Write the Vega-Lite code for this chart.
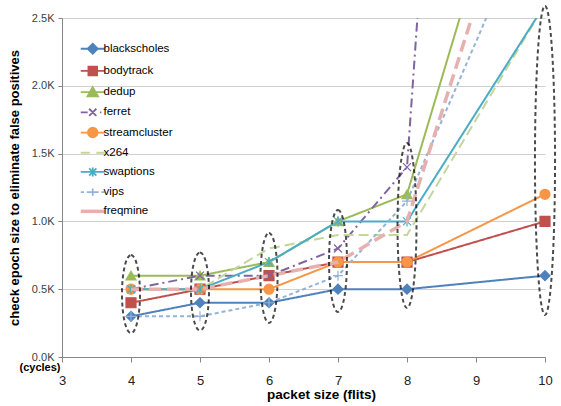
{
  "$schema": "https://vega.github.io/schema/vega-lite/v6.json",
  "autosize": {"type": "none"},
  "width": 483,
  "height": 339,
  "padding": {"left": 62, "top": 18, "right": 16, "bottom": 49},
  "background": "white",
  "config": {
    "font": "Liberation Sans",
    "view": {"stroke": null},
    "axis": {"domainColor": "#868686", "tickColor": "#868686", "labelFont": "Liberation Sans", "titleFont": "Liberation Sans"}
  },
  "datasets": {
    "series": [
      {"series": "blackscholes", "x": 4, "y": 0.3},
      {"series": "blackscholes", "x": 5, "y": 0.4},
      {"series": "blackscholes", "x": 6, "y": 0.4},
      {"series": "blackscholes", "x": 7, "y": 0.5},
      {"series": "blackscholes", "x": 8, "y": 0.5},
      {"series": "blackscholes", "x": 10, "y": 0.6},
      {"series": "bodytrack", "x": 4, "y": 0.4},
      {"series": "bodytrack", "x": 5, "y": 0.5},
      {"series": "bodytrack", "x": 6, "y": 0.6},
      {"series": "bodytrack", "x": 7, "y": 0.7},
      {"series": "bodytrack", "x": 8, "y": 0.7},
      {"series": "bodytrack", "x": 10, "y": 1.0},
      {"series": "dedup", "x": 4, "y": 0.6},
      {"series": "dedup", "x": 5, "y": 0.6},
      {"series": "dedup", "x": 6, "y": 0.7},
      {"series": "dedup", "x": 7, "y": 1.0},
      {"series": "dedup", "x": 8, "y": 1.2},
      {"series": "dedup", "x": 9, "y": 2.9},
      {"series": "ferret", "x": 4, "y": 0.5},
      {"series": "ferret", "x": 5, "y": 0.6},
      {"series": "ferret", "x": 6, "y": 0.6},
      {"series": "ferret", "x": 7, "y": 0.8},
      {"series": "ferret", "x": 8, "y": 1.4},
      {"series": "ferret", "x": 9, "y": 8.7},
      {"series": "streamcluster", "x": 4, "y": 0.5},
      {"series": "streamcluster", "x": 5, "y": 0.5},
      {"series": "streamcluster", "x": 6, "y": 0.5},
      {"series": "streamcluster", "x": 7, "y": 0.7},
      {"series": "streamcluster", "x": 8, "y": 0.7},
      {"series": "streamcluster", "x": 10, "y": 1.2},
      {"series": "x264", "x": 4, "y": 0.5},
      {"series": "x264", "x": 5, "y": 0.5},
      {"series": "x264", "x": 6, "y": 0.8},
      {"series": "x264", "x": 7, "y": 0.9},
      {"series": "x264", "x": 8, "y": 0.9},
      {"series": "x264", "x": 10, "y": 2.6},
      {"series": "swaptions", "x": 4, "y": 0.5},
      {"series": "swaptions", "x": 5, "y": 0.5},
      {"series": "swaptions", "x": 6, "y": 0.7},
      {"series": "swaptions", "x": 7, "y": 1.0},
      {"series": "swaptions", "x": 8, "y": 1.0},
      {"series": "swaptions", "x": 10, "y": 2.6},
      {"series": "vips", "x": 4, "y": 0.3},
      {"series": "vips", "x": 5, "y": 0.3},
      {"series": "vips", "x": 6, "y": 0.4},
      {"series": "vips", "x": 7, "y": 0.6},
      {"series": "vips", "x": 8, "y": 1.15},
      {"series": "vips", "x": 10, "y": 3.5},
      {"series": "freqmine", "x": 4, "y": 0.5},
      {"series": "freqmine", "x": 5, "y": 0.5},
      {"series": "freqmine", "x": 6, "y": 0.6},
      {"series": "freqmine", "x": 7, "y": 0.7},
      {"series": "freqmine", "x": 8, "y": 1.0},
      {"series": "freqmine", "x": 9, "y": 2.6}
    ],
    "ellipses": [
      {"ex": 4, "ey": 0.464},
      {"ex": 5, "ey": 0.483},
      {"ex": 6, "ey": 0.583},
      {"ex": 7, "ey": 0.708},
      {"ex": 8, "ey": 0.97},
      {"ex": 10, "ey": 1.449}
    ],
    "notes": [{"nx": 3, "ny": 0, "t": "(cycles)"}]
  },
  "layer": [
    {
      "data": {"name": "series"},
      "transform": [{"filter": "datum.series !== 'freqmine'"}],
      "mark": {"type": "line", "clip": true, "strokeWidth": 2},
      "encoding": {
        "x": {"field": "x", "type": "quantitative", "scale": {"domain": [3, 10], "nice": false, "zero": false},
          "axis": {"values": [3, 4, 5, 6, 7, 8, 9, 10], "format": "d", "labelFlush": false, "grid": false, "tickSize": 5, "labelFontSize": 13, "labelColor": "#222222", "labelPadding": 12,
            "title": "packet size (flits)", "titleFontSize": 13.5, "titleFontWeight": "bold", "titleColor": "#000000", "titleX": 259, "titleY": 37, "titleBaseline": "middle"}},
        "y": {"field": "y", "type": "quantitative", "scale": {"domain": [0, 2.5], "nice": false},
          "axis": {"values": [0, 0.5, 1, 1.5, 2, 2.5], "labelExpr": "format(datum.value, '.1f') + 'K'", "labelFlush": false, "grid": true, "gridColor": "#d0d0d0", "gridWidth": 1.2, "tickSize": 4, "labelFontSize": 11, "labelColor": "#404040", "labelPadding": 4,
            "title": "check epoch size to eliminate false positives", "titleFontSize": 13, "titleFontWeight": "bold", "titleColor": "#000000", "titlePadding": 10}},
        "color": {"field": "series", "type": "nominal",
          "scale": {"domain": ["blackscholes", "bodytrack", "dedup", "ferret", "streamcluster", "x264", "swaptions", "vips", "freqmine"],
            "range": ["#4F81BD", "#C0504D", "#9BBB59", "#8064A2", "#F79646", "#C3D69B", "#4BACC6", "#95B3D7", "#E6B0AF"]},
          "legend": {"title": null, "orient": "none", "legendX": 25, "legendY": 25, "padding": 0, "symbolSize": 576, "labelFontSize": 11.5, "labelColor": "#000000", "labelOffset": 5, "rowPadding": 4.2,
            "encode": {"symbols": {"update": {
              "shape": {"signal": "datum.value === 'blackscholes' ? 'M-1,0L1,0M-0.42,0L0,-0.42L0.42,0L0,0.42Z' : datum.value === 'bodytrack' ? 'M-1,0L1,0M-0.36,-0.36L0.36,-0.36L0.36,0.36L-0.36,0.36Z' : datum.value === 'dedup' ? 'M-1,0L1,0M0,-0.42L0.44,0.34L-0.44,0.34Z' : datum.value === 'ferret' ? 'M-1,0L-0.42,0M0.6,0L0.72,0M-0.3,-0.3L0.3,0.3M-0.3,0.3L0.3,-0.3' : datum.value === 'streamcluster' ? 'M-1,0L1,0M0.4,0C0.4,0.221,0.221,0.4,0,0.4C-0.221,0.4,-0.4,0.221,-0.4,0C-0.4,-0.221,-0.221,-0.4,0,-0.4C0.221,-0.4,0.4,-0.221,0.4,0Z' : datum.value === 'x264' ? 'M-1,0L-0.25,0M0.3,0L1,0' : datum.value === 'swaptions' ? 'M-1,0L1,0M-0.3,-0.3L0.3,0.3M-0.3,0.3L0.3,-0.3M0,-0.38L0,0.38' : datum.value === 'vips' ? 'M-1,0L-0.72,0M-0.5,0L-0.22,0M0.22,0L0.5,0M0.72,0L1,0M-0.25,0L0.25,0M0,-0.3L0,0.3' : 'M-1,0L1,0'"},
              "fill": {"scale": "color", "field": "value"},
              "stroke": {"scale": "color", "field": "value"},
              "strokeWidth": {"signal": "datum.value === 'freqmine' ? 3.5 : 1.8"},
              "opacity": {"value": 1}
            }}}}},
        "strokeDash": {"field": "series", "type": "nominal", "legend": null,
          "scale": {"domain": ["blackscholes", "bodytrack", "dedup", "ferret", "streamcluster", "x264", "swaptions", "vips"],
            "range": [[1, 0], [1, 0], [1, 0], [9, 4, 2, 4], [1, 0], [10, 5], [1, 0], [4, 3]]}}
      }
    },
    {
      "data": {"name": "series"},
      "transform": [{"filter": "datum.series !== 'freqmine' && datum.series !== 'x264' && datum.y <= 2.5"}],
      "mark": {"type": "point", "filled": true, "size": 100, "strokeWidth": 1.2, "opacity": 1},
      "encoding": {
        "x": {"field": "x", "type": "quantitative"},
        "y": {"field": "y", "type": "quantitative"},
        "color": {"field": "series", "type": "nominal", "legend": null},
        "stroke": {"field": "series", "type": "nominal", "legend": null,
          "scale": {"domain": ["blackscholes", "bodytrack", "dedup", "ferret", "streamcluster", "x264", "swaptions", "vips", "freqmine"],
            "range": ["#4F81BD", "#C0504D", "#9BBB59", "#8064A2", "#F79646", "#C3D69B", "#4BACC6", "#95B3D7", "#E6B0AF"]}},
        "shape": {"field": "series", "type": "nominal", "legend": null,
          "scale": {"domain": ["blackscholes", "bodytrack", "dedup", "ferret", "streamcluster", "swaptions", "vips"],
            "range": ["diamond", "square", "triangle-up", "M-0.8,-0.8L0.8,0.8M-0.8,0.8L0.8,-0.8", "circle", "M-0.8,-0.8L0.8,0.8M-0.8,0.8L0.8,-0.8M0,-1L0,1", "M-1,0L1,0M0,-1L0,1"]}}
      }
    },
    {
      "data": {"name": "series"},
      "transform": [{"filter": "datum.series === 'freqmine'"}],
      "mark": {"type": "line", "clip": true, "strokeWidth": 3.5, "strokeDash": [12, 6]},
      "encoding": {
        "x": {"field": "x", "type": "quantitative"},
        "y": {"field": "y", "type": "quantitative"},
        "color": {"field": "series", "type": "nominal", "legend": null}
      }
    },
    {
      "data": {"name": "notes"},
      "mark": {"type": "text", "dx": -22, "dy": 11, "fontSize": 11, "fontWeight": "bold", "align": "center", "baseline": "middle", "color": "#000000"},
      "encoding": {
        "x": {"field": "nx", "type": "quantitative"},
        "y": {"field": "ny", "type": "quantitative"},
        "text": {"field": "t"}
      }
    },
    {
      "data": {"name": "ellipses"},
      "transform": [{"filter": "datum.ex <= 5"}],
      "mark": {"type": "point", "filled": false, "stroke": "#000000", "strokeWidth": 2, "strokeDash": [4, 3], "size": 6084,
        "shape": "M0,-1C0.1276,-1,0.231,-0.5523,0.231,0C0.231,0.5523,0.1276,1,0,1C-0.1276,1,-0.231,0.5523,-0.231,0C-0.231,-0.5523,-0.1276,-1,0,-1Z"},
      "encoding": {"x": {"field": "ex", "type": "quantitative"}, "y": {"field": "ey", "type": "quantitative"}}
    },
    {
      "data": {"name": "ellipses"},
      "transform": [{"filter": "datum.ex === 6"}],
      "mark": {"type": "point", "filled": false, "stroke": "#000000", "strokeWidth": 2, "strokeDash": [4, 3], "size": 8100,
        "shape": "M0,-1C0.105,-1,0.19,-0.5523,0.19,0C0.19,0.5523,0.105,1,0,1C-0.105,1,-0.19,0.5523,-0.19,0C-0.19,-0.5523,-0.105,-1,0,-1Z"},
      "encoding": {"x": {"field": "ex", "type": "quantitative"}, "y": {"field": "ey", "type": "quantitative"}}
    },
    {
      "data": {"name": "ellipses"},
      "transform": [{"filter": "datum.ex === 7"}],
      "mark": {"type": "point", "filled": false, "stroke": "#000000", "strokeWidth": 2, "strokeDash": [4, 3], "size": 10404,
        "shape": "M0,-1C0.0972,-1,0.176,-0.5523,0.176,0C0.176,0.5523,0.0972,1,0,1C-0.0972,1,-0.176,0.5523,-0.176,0C-0.176,-0.5523,-0.0972,-1,0,-1Z"},
      "encoding": {"x": {"field": "ex", "type": "quantitative"}, "y": {"field": "ey", "type": "quantitative"}}
    },
    {
      "data": {"name": "ellipses"},
      "transform": [{"filter": "datum.ex === 8"}],
      "mark": {"type": "point", "filled": false, "stroke": "#000000", "strokeWidth": 2, "strokeDash": [4, 3], "size": 27225,
        "shape": "M0,-1C0.0635,-1,0.115,-0.5523,0.115,0C0.115,0.5523,0.0635,1,0,1C-0.0635,1,-0.115,0.5523,-0.115,0C-0.115,-0.5523,-0.0635,-1,0,-1Z"},
      "encoding": {"x": {"field": "ex", "type": "quantitative"}, "y": {"field": "ey", "type": "quantitative"}}
    },
    {
      "data": {"name": "ellipses"},
      "transform": [{"filter": "datum.ex === 10"}],
      "mark": {"type": "point", "filled": false, "stroke": "#000000", "strokeWidth": 2, "strokeDash": [4, 3], "size": 95481,
        "shape": "M0,-1C0.0359,-1,0.065,-0.5523,0.065,0C0.065,0.5523,0.0359,1,0,1C-0.0359,1,-0.065,0.5523,-0.065,0C-0.065,-0.5523,-0.0359,-1,0,-1Z"},
      "encoding": {"x": {"field": "ex", "type": "quantitative"}, "y": {"field": "ey", "type": "quantitative"}}
    }
  ],
  "resolve": {"scale": {"shape": "independent"}}
}
